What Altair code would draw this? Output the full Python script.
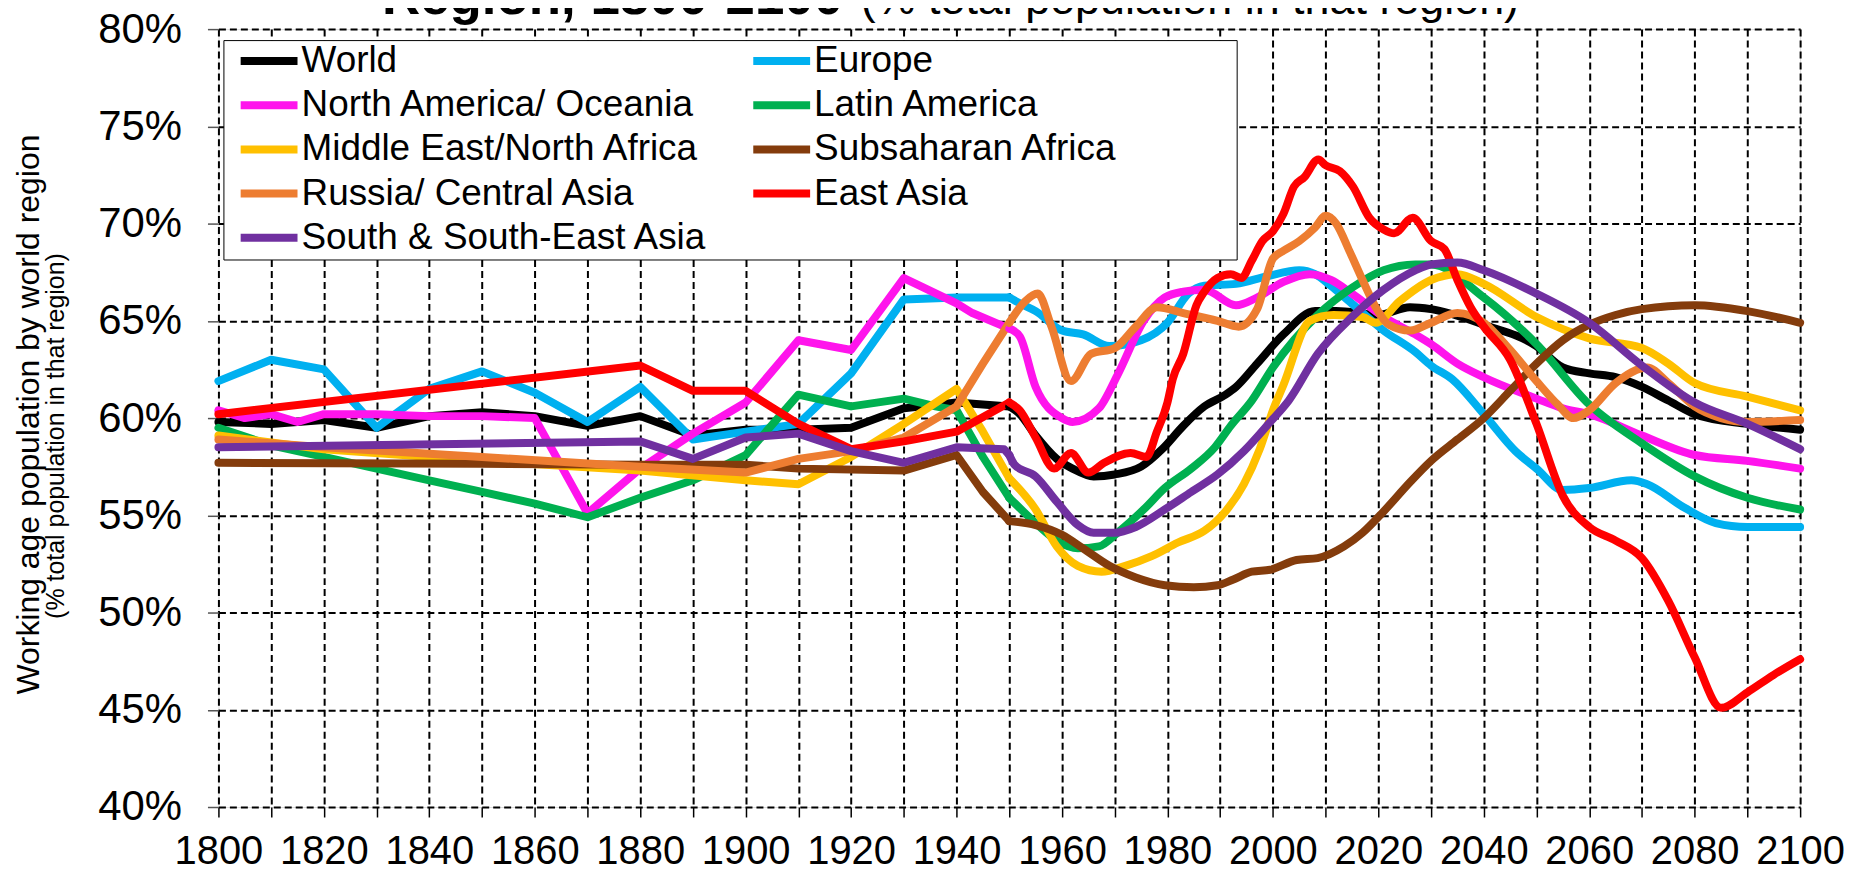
import altair as alt
import pandas as pd

FONT = "Liberation Sans, Arial, sans-serif"

series_names = ["World", "Europe", "North America/ Oceania", "Latin America",
                "Middle East/North Africa", "Subsaharan Africa",
                "Russia/ Central Asia", "East Asia", "South & South-East Asia"]
series_colors = ["#000000", "#00B0F0", "#FF14EC", "#00B050", "#FFC000",
                 "#843C0C", "#ED7D31", "#FF0000", "#7030A0"]
# legend fills column by column: left column first, then right column
legend_order = ["World", "North America/ Oceania", "Middle East/North Africa",
                "Russia/ Central Asia", "South & South-East Asia",
                "Europe", "Latin America", "Subsaharan Africa", "East Asia"]

world_years = [1800, 1810, 1820, 1830, 1840, 1850, 1860, 1870, 1880, 1890, 1900, 1910, 1920, 1930, 1940, 1950,
               1952, 1955, 1959, 1962, 1966, 1970, 1975, 1979, 1983, 1987, 1991, 1993, 1997, 2002, 2008, 2012,
               2020, 2026, 2030, 2040, 2050, 2055, 2060, 2065, 2070, 2075, 2080, 2090, 2100]
world_vals = [59.8, 59.7, 59.9, 59.5, 60.1, 60.3, 60.1, 59.6, 60.1, 59.1, 59.4, 59.4, 59.5, 60.5, 60.8, 60.6,
              60.2, 59.1, 57.9, 57.4, 57.0, 57.1, 57.5, 58.4, 59.6, 60.6, 61.2, 61.6, 62.8, 64.3, 65.5, 65.5,
              65.3, 65.7, 65.6, 64.8, 63.7, 62.6, 62.3, 62.1, 61.6, 60.9, 60.2, 59.7, 59.4]

europe_years = [1800, 1810, 1820, 1830, 1840, 1850, 1860, 1870, 1880, 1890, 1900, 1910, 1920, 1930, 1940, 1950,
                1952, 1955, 1960, 1964, 1969, 1975, 1980, 1984, 1987, 1993, 1999, 2005, 2008, 2011, 2014.5,
                2021, 2027, 2030, 2034, 2040, 2046, 2050, 2055, 2060, 2068, 2071, 2078, 2084, 2090, 2100]
europe_vals = [61.9, 63.0, 62.5, 59.5, 61.5, 62.4, 61.3, 59.8, 61.6, 58.9, 59.3, 59.7, 62.3, 66.1, 66.2, 66.2,
               65.9, 65.5, 64.5, 64.3, 63.7, 64.0, 64.9, 66.4, 66.8, 66.9, 67.3, 67.6, 67.4, 66.8, 66.0,
               64.5, 63.4, 62.7, 62.0, 60.2, 58.3, 57.4, 56.3, 56.4, 56.8, 56.6, 55.4, 54.6, 54.4, 54.4]

namerica_years = [1800, 1805, 1810, 1815, 1820, 1830, 1840, 1850, 1860, 1870, 1880, 1890, 1900, 1910, 1920, 1930,
                  1940, 1943, 1950, 1952, 1955, 1960, 1962, 1967, 1970.5, 1975.5, 1979.5, 1983, 1987, 1993, 1997,
                  2002, 2007, 2011, 2015, 2021, 2027, 2030, 2035, 2040, 2050, 2055, 2060, 2070, 2080, 2090, 2100]
namerica_vals = [60.4, 60.0, 60.2, 59.8, 60.2, 60.2, 60.1, 60.1, 60.0, 55.1, 57.4, 59.2, 60.8, 64.0, 63.5, 67.2,
                 65.9, 65.4, 64.6, 64.2, 61.6, 60.0, 59.8, 60.5, 62.2, 65.0, 66.2, 66.5, 66.6, 65.8, 66.2,
                 67.0, 67.4, 67.1, 66.4, 65.2, 64.3, 63.8, 62.8, 62.1, 61.0, 60.5, 60.2, 59.1, 58.1, 57.8, 57.4]

latin_years = [1800, 1810, 1820, 1830, 1840, 1850, 1860, 1870, 1880, 1890, 1900, 1910, 1920, 1930, 1936, 1940,
               1945, 1950, 1955, 1959, 1963, 1967, 1970.5, 1975.5, 1979.5, 1984.5, 1989, 1992, 1996, 2000,
               2008.5, 2015, 2021, 2027, 2030, 2040, 2050, 2060, 2070, 2080, 2090, 2100]
latin_vals = [59.5, 58.6, 58.0, 57.4, 56.8, 56.2, 55.6, 54.9, 55.9, 56.8, 58.1, 61.2, 60.6, 61.0, 60.6, 60.4,
              58.0, 55.9, 54.6, 53.7, 53.3, 53.4, 54.1, 55.3, 56.4, 57.4, 58.5, 59.6, 60.9, 62.6,
              65.3, 66.7, 67.6, 67.9, 67.9, 66.2, 63.8, 60.7, 58.7, 57.0, 55.9, 55.3]

mena_years = [1800, 1820, 1850, 1880, 1900, 1910, 1920, 1930, 1940, 1945, 1950, 1955, 1959, 1963, 1967.5, 1972,
              1977, 1982, 1987, 1991, 1994.5, 1997.5, 2000, 2002, 2007, 2011.5, 2017, 2019.5, 2024, 2030, 2035,
              2040, 2050, 2060, 2070, 2075, 2080, 2090, 2100]
mena_vals = [59.1, 58.4, 57.8, 57.3, 56.8, 56.6, 58.0, 59.7, 61.5, 59.3, 56.9, 55.3, 53.4, 52.4, 52.1, 52.4,
             52.9, 53.6, 54.2, 55.2, 56.6, 58.4, 60.4, 61.7, 65.0, 65.3, 65.2, 64.9, 66.0, 67.1, 67.4,
             66.9, 65.2, 64.1, 63.6, 62.8, 61.8, 61.1, 60.4]

ssa_years = [1800, 1850, 1880, 1900, 1910, 1930, 1940, 1945, 1950, 1955, 1960, 1964, 1969, 1974, 1979.5, 1985,
             1989.5, 1992.5, 1996, 1999.5, 2004.5, 2008.5, 2013.5, 2017, 2021, 2026, 2030, 2035, 2040, 2045,
             2050, 2055, 2060, 2065, 2070, 2080, 2090, 2100]
ssa_vals = [57.7, 57.65, 57.6, 57.6, 57.4, 57.3, 58.1, 56.2, 54.7, 54.5, 54.0, 53.3, 52.4, 51.8, 51.4, 51.3,
            51.4, 51.7, 52.1, 52.2, 52.7, 52.8, 53.4, 54.1, 55.2, 56.7, 57.8, 58.9, 60.0, 61.4,
            62.8, 64.0, 64.8, 65.3, 65.6, 65.8, 65.5, 64.9]

russia_years = [1800, 1820, 1850, 1880, 1900, 1910, 1920, 1930, 1940, 1945, 1950, 1953, 1955.4, 1958, 1961.7,
                1965.5, 1970, 1974, 1978, 1983, 1989.5, 1993.5, 1997, 2000, 2002, 2005, 2008, 2010, 2012, 2014.5,
                2017, 2019.5, 2022, 2026, 2030, 2035, 2040, 2045, 2050, 2054, 2057, 2060, 2065, 2071, 2075,
                2080, 2085, 2090, 2100]
russia_vals = [58.9, 58.5, 58.0, 57.5, 57.2, 57.9, 58.3, 59.0, 60.6, 62.8, 64.9, 66.0, 66.4, 64.7, 61.9,
               63.3, 63.6, 64.7, 65.7, 65.4, 65.0, 64.7, 65.6, 68.2, 68.6, 69.1, 69.8, 70.4, 70.0, 68.6,
               67.1, 65.7, 64.8, 64.5, 64.9, 65.4, 64.9, 63.5, 61.9, 60.7, 60.0, 60.4, 61.8, 62.6, 61.8,
               60.6, 60.0, 59.8, 59.9]

easia_years = [1800, 1880, 1890, 1900, 1910, 1920, 1930, 1940, 1950, 1952, 1955, 1958.5, 1961.7, 1965, 1968,
               1973, 1976, 1978, 1980, 1981, 1983, 1985.5, 1987, 1989.5, 1992, 1994, 1996, 1998, 2000, 2002,
               2004, 2006, 2008.6, 2010, 2012.7, 2015.2, 2018.3, 2021, 2023, 2026.5, 2030, 2032.5, 2035,
               2037.5, 2040, 2045, 2050, 2055, 2060, 2065, 2070, 2075, 2080, 2085, 2090, 2095, 2100]
easia_vals = [60.2, 62.7, 61.4, 61.4, 59.7, 58.4, 58.8, 59.3, 60.8, 60.4, 59.0, 57.4, 58.2, 57.2, 57.7,
              58.2, 58.0, 59.3, 60.8, 62.0, 63.3, 65.8, 66.5, 67.2, 67.4, 67.2, 68.1, 69.1, 69.6, 70.5,
              71.9, 72.4, 73.3, 73.0, 72.7, 71.9, 70.3, 69.7, 69.5, 70.3, 69.1, 68.7, 67.1,
              65.7, 64.7, 63.0, 59.7, 56.0, 54.4, 53.7, 52.8, 50.6, 47.7, 45.1, 45.9, 46.8, 47.6]

ssea_years = [1800, 1880, 1890, 1900, 1910, 1920, 1930, 1940, 1949, 1950, 1951, 1955, 1959, 1963, 1966, 1970,
              1974, 1979.5, 1984.5, 1989.5, 1994.5, 1999.5, 2003, 2008.5, 2015, 2021, 2027, 2030, 2035, 2040,
              2050, 2060, 2070, 2080, 2090, 2100]
ssea_vals = [58.5, 58.8, 57.9, 59.0, 59.2, 58.3, 57.7, 58.5, 58.4, 58.1, 57.6, 57.0, 55.7, 54.5, 54.1, 54.1,
             54.4, 55.3, 56.2, 57.1, 58.3, 59.8, 60.9, 63.3, 65.2, 66.6, 67.6, 67.9, 68.0, 67.6,
             66.4, 64.9, 62.7, 60.8, 59.7, 58.4]

x_ticks = list(range(1800, 2101, 10))
y_ticks = [40, 45, 50, 55, 60, 65, 70, 75, 80]
title_bold = "Region, 1800-2100"
title_regular = "(% total population in that region)"
y_title_main = "Working age population by world region"
y_title_sub = "(% total population in that region)"

all_years = [world_years, europe_years, namerica_years, latin_years, mena_years,
             ssa_years, russia_years, easia_years, ssea_years]
all_vals = [world_vals, europe_vals, namerica_vals, latin_vals, mena_vals,
            ssa_vals, russia_vals, easia_vals, ssea_vals]

rows = []
for name, ys, vs in zip(series_names, all_years, all_vals):
    for yr, v in zip(ys, vs):
        rows.append({"Region": name, "year": yr, "value": v})
df = pd.DataFrame(rows)

color_of = dict(zip(series_names, series_colors))
legend_colors = [color_of[n] for n in legend_order]

x_enc = alt.X("year:Q",
              scale=alt.Scale(domain=[1800, 2100], nice=False, zero=False),
              axis=alt.Axis(values=x_ticks, title=None, domain=False,
                            labelExpr="datum.value % 20 == 0 ? datum.value : ''",
                            labelFontSize=40, labelFont=FONT, labelColor="black",
                            labelFlush=False, labelOverlap=False, labelPadding=15,
                            tickSize=10, tickColor="black", tickWidth=1.5,
                            grid=True, gridColor="black", gridDash=[7, 4], gridWidth=2))
y_enc = alt.Y("value:Q",
              scale=alt.Scale(domain=[40, 80], nice=False, zero=False),
              axis=alt.Axis(values=y_ticks, title=y_title_main, domain=False,
                            labelExpr="datum.value + '%'",
                            labelFontSize=42, labelFont=FONT, labelColor="black",
                            labelFlush=False, labelOverlap=False, labelPadding=26,
                            tickSize=11, tickColor="#555555", tickWidth=1.5,
                            grid=True, gridColor="black", gridDash=[7, 4], gridWidth=2,
                            titleFontSize=32, titleFont=FONT, titleFontWeight="normal",
                            titleColor="black", titleAngle=270, titleX=-190, titleY=386,
                            titleAlign="center", titleBaseline="middle"))
color_enc = alt.Color("Region:N",
                      scale=alt.Scale(domain=legend_order, range=legend_colors),
                      legend=alt.Legend(orient="none", legendX=5, legendY=11, columns=2,
                                        title="\u00a0", titleOrient="right",
                                        titleFontSize=37, titlePadding=117,
                                        symbolType="stroke", symbolStrokeWidth=8,
                                        symbolSize=3249, clipHeight=37,
                                        labelFontSize=37, labelFont=FONT,
                                        labelColor="black", labelLimit=1000, labelOffset=0,
                                        rowPadding=6.3, columnPadding=30, padding=2.5,
                                        symbolOffset=10.8, strokeColor="black",
                                        fillColor="white", direction="vertical"))

base = alt.Chart(df).encode(x=x_enc, y=y_enc, color=color_enc)
lines_old = base.transform_filter("datum.year <= 1950").mark_line(
    strokeWidth=8, interpolate="linear", strokeJoin="round", strokeCap="round")
lines_new = base.transform_filter("datum.year >= 1950").mark_line(
    strokeWidth=8, interpolate="monotone", strokeJoin="round", strokeCap="round")

sub_df = pd.DataFrame({"t": [y_title_sub]})
ysub = alt.Chart(sub_df).mark_text(fontSize=25, font=FONT, angle=270, align="center",
                                   baseline="middle", color="black").encode(
    text="t:N", x=alt.value(-163), y=alt.value(408))

tb_df = pd.DataFrame({"t": [title_bold]})
tbold = alt.Chart(tb_df).mark_text(fontSize=53, font=FONT, fontWeight="bold", align="left",
                                   baseline="alphabetic", color="black").encode(
    text="t:N", x=alt.value(164), y=alt.value(-15))
tr_df = pd.DataFrame({"t": [title_regular]})
treg = alt.Chart(tr_df).mark_text(fontSize=45, font=FONT, align="left",
                                  baseline="alphabetic", color="black").encode(
    text="t:N", x=alt.value(644), y=alt.value(-15))

chart = alt.layer(lines_old, lines_new, ysub, tbold, treg).properties(
    width=1586, height=780,
    autosize=alt.AutoSizeParams(type="none"),
    padding={"left": 211, "top": 20, "right": 46, "bottom": 68},
).configure_view(stroke="black", strokeWidth=5).configure(background="white")

chart.save("out.html", embed_options={"renderer": "svg", "actions": False})
